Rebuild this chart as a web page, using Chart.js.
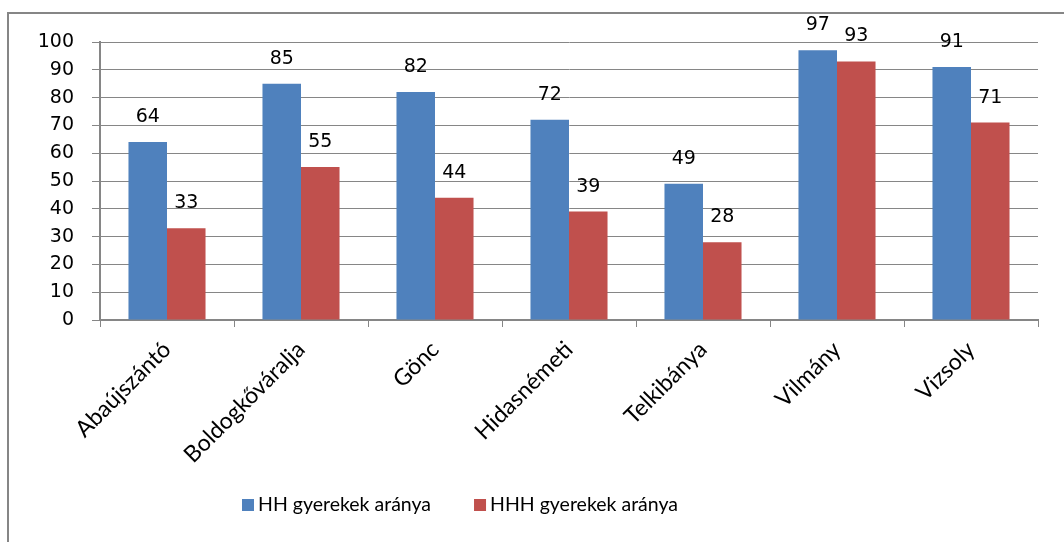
<!DOCTYPE html>
<html>
<head>
<meta charset="utf-8">
<script src="https://cdn.jsdelivr.net/npm/chart.js@4.4.1/dist/chart.umd.min.js"></script>
<style>
  body { margin: 0; background: #fff; overflow: hidden; }
  #frame { position: absolute; left: 7px; top: 12px; width: 1100px; height: 600px; border: 2px solid #868686; }
  #wrap { position: absolute; left: 0; top: 0; width: 1064px; height: 542px; }
</style>
</head>
<body>
<div id="frame"></div>
<div id="wrap"><canvas id="grafico"></canvas></div>
<script>
// datos del gráfico
var telepulesek = ["Abaújszántó", "Boldogkőváralja", "Gönc", "Hidasnémeti", "Telkibánya", "Vilmány", "Vizsoly"];
var hhArany = [64, 85, 82, 72, 49, 97, 91];
var hhhArany = [33, 55, 44, 39, 28, 93, 71];
var yTicks = [0, 10, 20, 30, 40, 50, 60, 70, 80, 90, 100];

var kek = "#4F81BD";
var piros = "#C0504D";
var szurke = "#868686";

// etiquetas de valor encima de las barras
var valorPlugin = {
  id: "valores",
  afterDatasetsDraw: function (chart) {
    var ctx = chart.ctx;
    ctx.save();
    ctx.font = "19px 'DejaVu Sans'";
    ctx.fillStyle = "#000";
    ctx.textAlign = "center";
    ctx.textBaseline = "middle";
    chart.data.datasets.forEach(function (ds, i) {
      var meta = chart.getDatasetMeta(i);
      meta.data.forEach(function (bar, j) {
        ctx.fillText(ds.data[j], bar.x, bar.y - 25);
      });
    });
    ctx.restore();
  }
};

// leyenda dibujada a mano
var leyendaPlugin = {
  id: "leyenda",
  afterDraw: function (chart) {
    var ctx = chart.ctx;
    var x = 242;
    var y = 505;
    ctx.save();
    ctx.font = "19.5px Lato";
    ctx.textBaseline = "middle";
    chart.data.datasets.forEach(function (ds) {
      ctx.fillStyle = ds.backgroundColor;
      ctx.fillRect(x, y - 6, 12, 12);
      ctx.fillStyle = "#000";
      ctx.fillText(ds.label, x + 16, y);
      x += 16 + ctx.measureText(ds.label).width + 43;
    });
    ctx.restore();
  }
};

var config = {
  type: "bar",
  data: {
    labels: telepulesek,
    datasets: [{
      label: "HH gyerekek aránya",
      backgroundColor: kek,
      data: hhArany
    }, {
      label: "HHH gyerekek aránya",
      backgroundColor: piros,
      data: hhhArany
    }]
  },
  options: {
    responsive: false,
    animation: false,
    categoryPercentage: 0.575,
    barPercentage: 1,
    layout: { padding: { left: 0, top: 42, right: 26, bottom: 0 } },
    plugins: {
      legend: { display: false },
      tooltip: { enabled: false }
    },
    scales: {
      x: {
        border: { color: szurke, width: 2 },
        grid: { drawOnChartArea: false, color: szurke, tickLength: 7 },
        ticks: {
          color: "#000",
          font: { family: "Lato", size: 23 },
          minRotation: 45,
          maxRotation: 45,
          padding: 9
        },
        afterFit: function (scale) { scale.height = 222; }
      },
      y: {
        min: 0,
        max: 100,
        border: { color: szurke, width: 2 },
        grid: { color: szurke, tickLength: 8 },
        afterBuildTicks: function (scale) {
          scale.ticks = yTicks.map(function (v) { return { value: v }; });
        },
        ticks: {
          color: "#000",
          font: { family: "DejaVu Sans", size: 19 },
          padding: 18
        },
        afterFit: function (scale) { scale.width = 100; }
      }
    }
  },
  plugins: [valorPlugin, leyendaPlugin]
};

var canvas = document.getElementById("grafico");
canvas.width = 1064;
canvas.height = 542;
new Chart(canvas.getContext("2d"), config);
</script>
</body>
</html>
